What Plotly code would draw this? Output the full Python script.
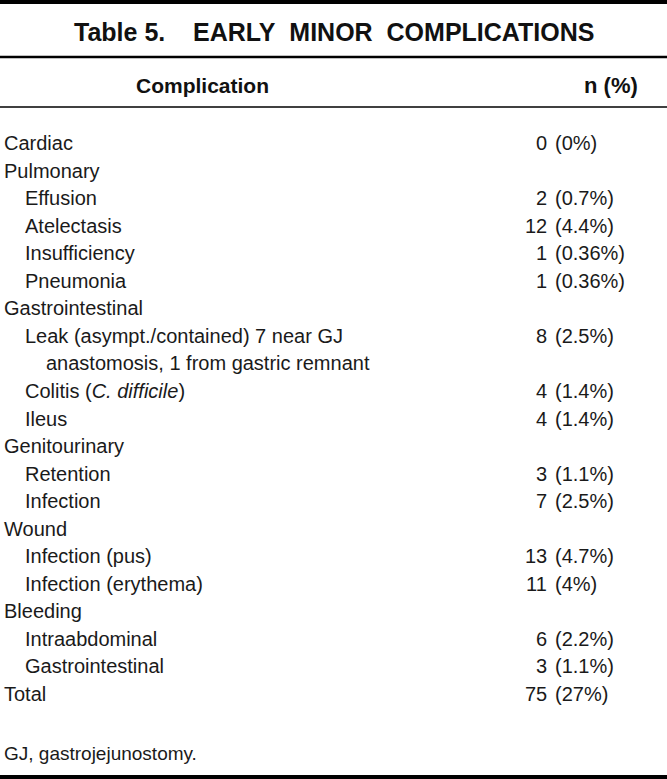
import plotly.graph_objects as go

# ---- data ----
title_text = "Table 5.&nbsp;&nbsp;&nbsp;&nbsp;EARLY&nbsp;&nbsp;MINOR&nbsp;&nbsp;COMPLICATIONS"
col_headers = ["Complication", "n (%)"]
labels = [
    "Cardiac", "Pulmonary", "Effusion", "Atelectasis", "Insufficiency", "Pneumonia",
    "Gastrointestinal", "Leak (asympt./contained) 7 near GJ",
    "anastomosis, 1 from gastric remnant",
    "Colitis (<i>C. difficile</i>)", "Ileus", "Genitourinary", "Retention", "Infection",
    "Wound", "Infection (pus)", "Infection (erythema)", "Bleeding", "Intraabdominal",
    "Gastrointestinal", "Total",
]
levels = [0, 0, 1, 1, 1, 1, 0, 1, 2, 1, 1, 0, 1, 1, 0, 1, 1, 0, 1, 1, 0]
counts = [0, None, 2, 12, 1, 1, None, 8, None, 4, 4, None, 3, 7, None, 13, 11, None, 6, 3, 75]
percents = ["0", None, "0.7", "4.4", "0.36", "0.36", None, "2.5", None, "1.4", "1.4",
            None, "1.1", "2.5", None, "4.7", "4", None, "2.2", "1.1", "27"]
footnote = "GJ, gastrojejunostomy."

# ---- layout constants ----
W, H = 667, 779
FONT = "Liberation Sans"
TXT = "#1a1a1a"
row_y0, row_dy = 143, 27.55
indent = {0: 2, 1: 23, 2: 44}
num_right, pct_left = 549, 553

fig = go.Figure()
fig.add_trace(go.Scatter(x=[0, W], y=[0, H], mode="markers", marker=dict(opacity=0),
                         hoverinfo="skip", showlegend=False))

ann = []
ann.append(dict(x=W / 2, y=32, text="<b>" + title_text + "</b>", xanchor="center",
                yanchor="middle", font=dict(family=FONT, size=25, color="#111")))
ann.append(dict(x=202, y=85, text="<b>" + col_headers[0] + "</b>", xanchor="center",
                yanchor="middle", font=dict(family=FONT, size=21, color="#111")))
ann.append(dict(x=640, y=85, text="<b>" + col_headers[1] + "</b>", xanchor="right",
                yanchor="middle", font=dict(family=FONT, size=22, color="#111")))

for i, (lab, lev, c, p) in enumerate(zip(labels, levels, counts, percents)):
    y = row_y0 + i * row_dy
    ann.append(dict(x=indent[lev], y=y, text=lab, xanchor="left", yanchor="middle",
                    font=dict(family=FONT, size=20, color=TXT)))
    if c is not None:
        ann.append(dict(x=num_right, y=y, text=str(c), xanchor="right", yanchor="middle",
                        font=dict(family=FONT, size=20, color=TXT)))
        ann.append(dict(x=pct_left, y=y, text="(" + p + "%)", xanchor="left",
                        yanchor="middle", font=dict(family=FONT, size=20, color=TXT)))

ann.append(dict(x=2, y=753, text=footnote, xanchor="left", yanchor="middle",
                font=dict(family=FONT, size=19, color=TXT)))

for a in ann:
    a.update(xref="x", yref="y", showarrow=False)

shapes = [
    dict(type="line", x0=0, x1=W, y0=2, y1=2, line=dict(color="black", width=4)),
    dict(type="line", x0=0, x1=W, y0=57, y1=57, line=dict(color="black", width=2.5)),
    dict(type="line", x0=0, x1=W, y0=107, y1=107, line=dict(color="black", width=1.5)),
    dict(type="line", x0=0, x1=W, y0=777, y1=777, line=dict(color="black", width=4)),
]
for s in shapes:
    s.update(xref="x", yref="y")

fig.update_layout(
    width=W, height=H, margin=dict(l=0, r=0, t=0, b=0),
    paper_bgcolor="white", plot_bgcolor="white",
    xaxis=dict(range=[0, W], visible=False, fixedrange=True),
    yaxis=dict(range=[H, 0], visible=False, fixedrange=True),
    annotations=ann, shapes=shapes, showlegend=False,
)
fig.write_html("out.html", config={"displayModeBar": False},
               post_script="document.body.style.margin='0';document.body.style.overflow='hidden';")
